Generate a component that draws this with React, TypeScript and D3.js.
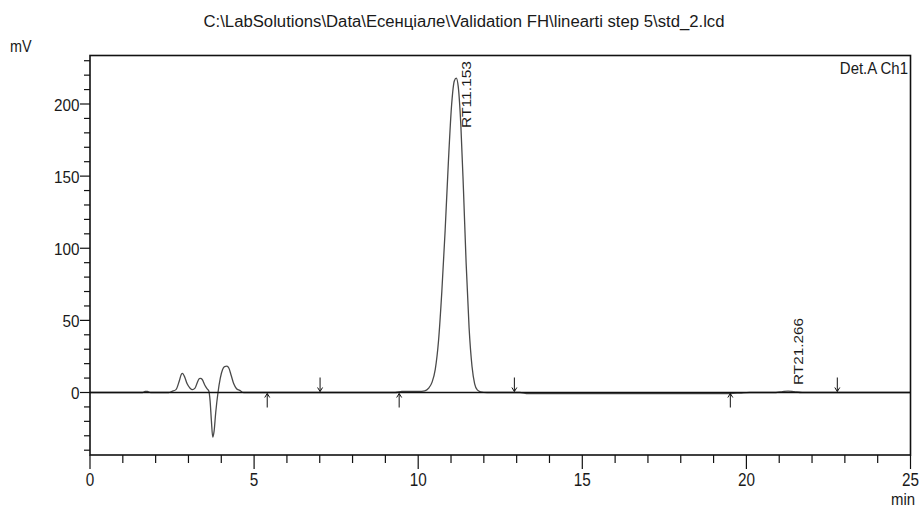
import React from "react";
import * as d3 from "d3";

// ---- data ----
const TITLE = "C:\\LabSolutions\\Data\\Есенціале\\Validation FH\\linearti step 5\\std_2.lcd";
const Y_UNIT = "mV";
const X_UNIT = "min";
const DETECTOR = "Det.A Ch1";

const TIME_MIN = [
  0, 1.6, 1.68, 1.75, 1.85, 2.4, 2.5, 2.62, 2.72, 2.78, 2.82, 2.88, 2.96, 3.05, 3.12,
  3.2, 3.27, 3.33, 3.37, 3.42, 3.5, 3.57, 3.62, 3.66, 3.7, 3.74, 3.78, 3.83, 3.9, 3.97,
  4.04, 4.1, 4.17, 4.23, 4.3, 4.38, 4.46, 4.56, 4.68, 9.3, 9.5, 10.0, 10.2, 10.32,
  10.42, 10.52, 10.62, 10.72, 10.82, 10.92, 11.02, 11.1, 11.16, 11.22, 11.3, 11.38,
  11.46, 11.55, 11.64, 11.72, 11.8, 11.9, 12.1, 13.1, 13.35, 19.5, 19.8, 20.1, 20.9,
  21.1, 21.27, 21.45, 21.7, 22.2, 25
];
const SIGNAL_MV = [
  0, 0, 0.8, 0.7, 0, 0, 0.8, 2, 8, 12.5, 13.3, 11, 6, 3, 2,
  3, 7, 9.6, 9.8, 9, 5, 2.5, 1, -6, -20, -31, -27, -14, 0, 10,
  16, 18, 18.3, 17, 12, 6, 2.8, 1.5, 0, 0, 0.7, 0.8, 1.2, 3,
  7, 16, 36, 70, 112, 160, 200, 216, 218, 212, 185, 140,
  90, 45, 18, 6, 1.8, 0.5, 0, 0, -0.7, -0.7, -0.4, 0, 0,
  0.6, 1.0, 0.6, 0, 0, 0
];

const ARROW_UP_MIN = [5.4, 9.42, 19.51];
const ARROW_DOWN_MIN = [7.01, 12.93, 22.77];

const PEAK_RT = [11.153, 21.266];
const PEAK_LABEL = ["RT11.153", "RT21.266"];

const X_TICKS_MAJOR = [0, 5, 10, 15, 20, 25];
const Y_TICKS_MAJOR = [0, 50, 100, 150, 200];

// ---- layout ----
const W = 922;
const H = 507;
const LEFT = 90;
const RIGHT = 910.5;
const TOP = 55.5;
const BOTTOM = 455;
const LABEL_BOTTOM_Y = [128, 385];
const FONT = "'Liberation Sans', Arial, sans-serif";
const TXT = "#1a1a1a";

const x = d3.scaleLinear().domain([0, 25]).range([LEFT, RIGHT]);
const y = d3.scaleLinear().domain([0, 200]).range([392.5, 104]);

const yMin = y.invert(BOTTOM);
const yMax = y.invert(TOP);

function NText(props: {
  x: number; y: number; sx?: number; size: number; anchor?: string; rotate?: number; children: React.ReactNode; fill?: string;
}) {
  const { sx = 1, rotate = 0, anchor = "start", fill = TXT } = props;
  return (
    <text
      transform={`translate(${props.x},${props.y}) rotate(${rotate}) scale(${sx},1)`}
      fontFamily={FONT}
      fontSize={props.size}
      textAnchor={anchor}
      fill={fill}
    >
      {props.children}
    </text>
  );
}

export default function App() {
  const points: [number, number][] = TIME_MIN.map((t, i) => [t, SIGNAL_MV[i]]);
  const line = d3
    .line<[number, number]>()
    .x((d) => x(d[0]))
    .y((d) => y(d[1]))
    .curve(d3.curveMonotoneX);

  const xMinor = d3.range(0, 26, 1);
  const yMinor = d3.range(Math.ceil(yMin / 10) * 10, yMax, 10);

  return (
    <svg width={W} height={H} style={{ position: "absolute", left: 0, top: 0, background: "#fff" }}>
      <rect x={0} y={0} width={W} height={H} fill="#fff" />
      {/* title */}
      <text x={464} y={27} fontFamily={FONT} fontSize={16} textAnchor="middle" fill={TXT}
        textLength={521} lengthAdjust="spacingAndGlyphs">{TITLE}</text>
      <NText x={10} y={52} size={16} sx={0.9}>{Y_UNIT}</NText>
      <NText x={903} y={505} size={17} sx={0.88} anchor="middle">{X_UNIT}</NText>
      <NText x={908} y={73.5} size={17} sx={0.88} anchor="end">{DETECTOR}</NText>

      {/* trace */}
      <path d={line(points) || ""} fill="none" stroke="#4a4a4a" strokeWidth={1.3} />
      {/* zero line */}
      <line x1={LEFT} x2={RIGHT} y1={y(0)} y2={y(0)} stroke="#111" strokeWidth={1.3} />

      {/* integration markers */}
      {ARROW_UP_MIN.map((t, i) => {
        const ax = x(t);
        const y0 = y(0);
        return (
          <g key={"u" + i} stroke="#111" strokeWidth={1} fill="none">
            <line x1={ax} x2={ax} y1={y0 + 15} y2={y0 + 1} />
            <path d={`M${ax - 2.5},${y0 + 5} L${ax},${y0 + 1} L${ax + 2.5},${y0 + 5}`} />
          </g>
        );
      })}
      {ARROW_DOWN_MIN.map((t, i) => {
        const ax = x(t);
        const y0 = y(0);
        return (
          <g key={"d" + i} stroke="#111" strokeWidth={1} fill="none">
            <line x1={ax} x2={ax} y1={y0 - 15} y2={y0 - 1} />
            <path d={`M${ax - 2.5},${y0 - 5} L${ax},${y0 - 1} L${ax + 2.5},${y0 - 5}`} />
          </g>
        );
      })}

      {/* peak labels */}
      {PEAK_RT.map((rt, i) => (
        <text key={"p" + i}
          transform={`translate(${x(rt) + 15},${LABEL_BOTTOM_Y[i]}) rotate(-90)`}
          fontFamily={FONT} fontSize={13} fill={TXT} textLength={67} lengthAdjust="spacingAndGlyphs">
          {PEAK_LABEL[i]}
        </text>
      ))}

      {/* frame */}
      <rect x={LEFT} y={TOP} width={RIGHT - LEFT} height={BOTTOM - TOP} fill="none" stroke="#111" strokeWidth={1.6} />

      {/* x axis ticks */}
      {xMinor.map((t) => {
        const major = X_TICKS_MAJOR.includes(t);
        return <line key={"xt" + t} x1={x(t)} x2={x(t)} y1={BOTTOM} y2={BOTTOM + (major ? 14 : 8)} stroke="#111" strokeWidth={1.2} />;
      })}
      {X_TICKS_MAJOR.map((t) => (
        <NText key={"xl" + t} x={x(t)} y={486} size={18} sx={0.85} anchor="middle">{String(t)}</NText>
      ))}

      {/* y axis ticks */}
      {yMinor.map((v) => {
        const major = Y_TICKS_MAJOR.includes(v);
        return <line key={"yt" + v} x1={LEFT - (major ? 10 : 6)} x2={LEFT} y1={y(v)} y2={y(v)} stroke="#111" strokeWidth={1.2} />;
      })}
      {Y_TICKS_MAJOR.map((v) => (
        <NText key={"yl" + v} x={79.5} y={y(v) + 6.5} size={17} sx={0.9} anchor="end">{String(v)}</NText>
      ))}
    </svg>
  );
}
